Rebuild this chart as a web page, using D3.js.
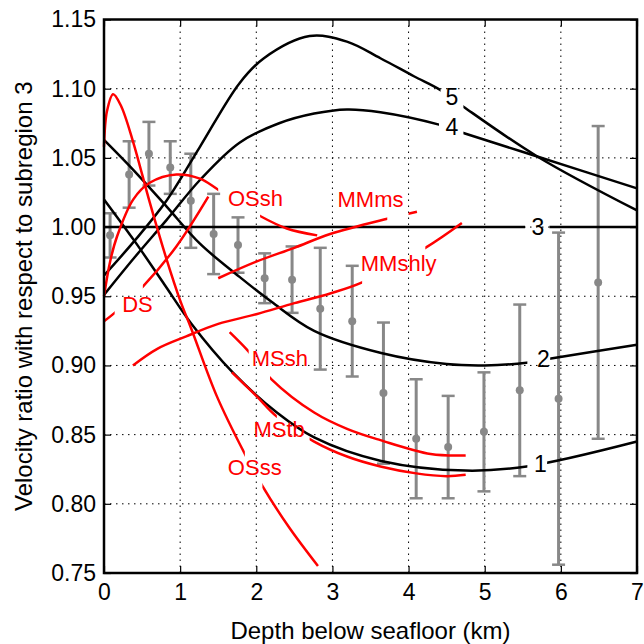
<!DOCTYPE html>
<html>
<head>
<meta charset="utf-8">
<script src="https://cdn.jsdelivr.net/npm/d3@7"></script>
<style>
  body { margin: 0; background: #fff; }
  svg text { font-family: "Liberation Sans", Arial, Helvetica, sans-serif; }
</style>
</head>
<body>
<svg id="chart" width="644" height="644"></svg>
<script>
// axis ticks
const xTicks = [0, 1, 2, 3, 4, 5, 6, 7]
const yTicks = [0.75, 0.80, 0.85, 0.90, 0.95, 1.00, 1.05, 1.10, 1.15]

// observed ratios with error bars
const obsDepth = [0.08, 0.33, 0.59, 0.87, 1.14, 1.44, 1.76, 2.11, 2.47, 2.84, 3.26, 3.67, 4.10, 4.52, 4.99, 5.46, 5.97, 6.49]
const obsRatio = [0.994, 1.038, 1.053, 1.043, 1.019, 0.995, 0.987, 0.963, 0.962, 0.941, 0.932, 0.880, 0.847, 0.841, 0.852, 0.882, 0.876, 0.960]
const obsErr   = [0.016, 0.024, 0.023, 0.019, 0.034, 0.029, 0.020, 0.018, 0.024, 0.044, 0.040, 0.051, 0.043, 0.037, 0.043, 0.062, 0.120, 0.113]

// subregion curves (black)
const sub1 = [[0, 1.020], [0.4, 0.990], [0.8, 0.958], [1.15, 0.930], [1.69, 0.895], [2.27, 0.866], [2.76, 0.848], [3.64, 0.831], [4.75, 0.824], [5.55, 0.827], [7, 0.845]]
const sub2 = [[0, 1.063], [0.39, 1.041], [0.82, 1.015], [1.26, 0.988], [1.78, 0.964], [2.2, 0.946], [2.76, 0.925], [3.64, 0.909], [4.5, 0.901], [5.0, 0.900], [5.55, 0.902], [5.87, 0.905], [7, 0.915]]
const sub3 = [[0, 1.0], [7, 1.0]]
const sub4 = [[0, 0.951], [0.4, 0.978], [0.82, 1.005], [1.26, 1.034], [1.78, 1.061], [2.3, 1.075], [2.76, 1.082], [3.19, 1.085], [3.63, 1.083], [4.4, 1.074], [4.72, 1.068], [5.69, 1.051], [7, 1.028]]
const sub5 = [[0, 0.965], [0.4, 0.990], [0.82, 1.019], [1.26, 1.058], [1.78, 1.104], [2.1, 1.122], [2.7, 1.138], [3.19, 1.134], [3.63, 1.122], [4.07, 1.109], [4.42, 1.099], [4.72, 1.087], [5.69, 1.051], [7, 1.012]]

// lithology curves (red)
const osss   = [[0, 1.058], [0.04, 1.084], [0.12, 1.096], [0.22, 1.088], [0.38, 1.062], [0.6, 1.018], [0.82, 0.977], [1.0, 0.947], [1.15, 0.926], [1.48, 0.878], [1.85, 0.836], [2.08, 0.813], [2.43, 0.783], [2.81, 0.755]]
const ossh   = [[0, 0.950], [0.08, 0.975], [0.17, 0.993], [0.385, 1.020], [0.6, 1.032], [0.95, 1.038], [1.26, 1.035], [1.5, 1.027], [2.05, 1.008], [2.4, 0.999], [2.8, 0.994]]
const ds     = [[0, 0.932], [0.14, 0.938], [0.51, 0.957], [0.95, 0.986], [1.37, 1.022]]
const mmms   = [[1.5, 0.963], [2.0, 0.975], [2.5, 0.985], [2.97, 0.995], [3.72, 1.006], [4.11, 1.011]]
const mmshly = [[0.38, 0.900], [0.7, 0.912], [1.08, 0.921], [1.5, 0.930], [2.0, 0.937], [2.5, 0.945], [2.97, 0.952], [3.39, 0.960], [4.22, 0.985], [4.70, 1.003]]
const mssh   = [[1.65, 0.924], [1.9, 0.910], [2.2, 0.890], [2.76, 0.866], [3.2, 0.854], [3.63, 0.846], [4.29, 0.836], [4.75, 0.835]]
const mstb   = [[1.68, 0.895], [2.0, 0.878], [2.27, 0.863], [2.76, 0.845], [3.2, 0.834], [3.63, 0.827], [4.1, 0.822], [4.5, 0.820], [4.75, 0.821]]

const curves = [
  { pts: sub1, color: '#000', text: '1', at: [5.73, 0.829], gap: [5.56, 5.82] },
  { pts: sub2, color: '#000', text: '2', at: [5.77, 0.905], gap: [5.56, 5.86] },
  { pts: sub3, color: '#000', text: '3', at: [5.70, 1.0], gap: [5.53, 5.85] },
  { pts: sub4, color: '#000', text: '4', at: [4.57, 1.0725], gap: [4.40, 4.72] },
  { pts: sub5, color: '#000', text: '5', at: [4.57, 1.094], gap: [4.42, 4.72] },
  { pts: osss, color: '#f00', text: 'OSss', at: [1.98, 0.826], gap: [1.85, 2.08] },
  { pts: ossh, color: '#f00', text: 'OSsh', at: [1.99, 1.021], gap: [1.5, 2.05] },
  { pts: ds, color: '#f00', text: 'DS', at: [0.44, 0.944], gap: [0.14, 0.51] },
  { pts: mmms, color: '#f00', text: 'MMms', at: [3.50, 1.0196], gap: [3.72, 4.0] },
  { pts: mmshly, color: '#f00', text: 'MMshly', at: [3.87, 0.974], gap: [3.39, 4.22] },
  { pts: mssh, color: '#f00', text: 'MSsh', at: [2.31, 0.905], gap: [1.9, 2.18] },
  { pts: mstb, color: '#f00', text: 'MStb', at: [2.30, 0.854], gap: [2.27, 2.7] }
]

const margin = { top: 19.5, left: 104, right: 7, bottom: 71 }
const width = 644, height = 644
const x = d3.scaleLinear().domain([0, 7]).range([margin.left, width - margin.right])
const y = d3.scaleLinear().domain([0.75, 1.15]).range([height - margin.bottom, margin.top])

const svg = d3.select('#chart')

// 网格线
const grid = svg.append('g').attr('stroke', '#000').attr('stroke-width', 1).attr('stroke-dasharray', '1.5,4.5')
grid.selectAll('.gx').data(xTicks.slice(1, -1)).enter().append('line')
  .attr('x1', d => x(d)).attr('x2', d => x(d))
  .attr('y1', y(1.15)).attr('y2', y(0.75))
grid.selectAll('.gy').data(yTicks.slice(1, -1)).enter().append('line')
  .attr('y1', d => y(d)).attr('y2', d => y(d))
  .attr('x1', x(0)).attr('x2', x(7))

// 误差棒
const bars = svg.append('g').attr('stroke', '#888').attr('fill', '#888').attr('stroke-width', 3)
const obs = obsDepth.map((d, i) => ({ d, r: obsRatio[i], e: obsErr[i] }))
bars.selectAll('.bar').data(obs).enter().append('line')
  .attr('x1', o => x(o.d)).attr('x2', o => x(o.d))
  .attr('y1', o => y(o.r + o.e)).attr('y2', o => y(o.r - o.e))
bars.selectAll('.capTop').data(obs).enter().append('line')
  .attr('x1', o => x(o.d) - 6.5).attr('x2', o => x(o.d) + 6.5)
  .attr('y1', o => y(o.r + o.e)).attr('y2', o => y(o.r + o.e))
  .attr('stroke-width', 2.5)
bars.selectAll('.capBot').data(obs).enter().append('line')
  .attr('x1', o => x(o.d) - 6.5).attr('x2', o => x(o.d) + 6.5)
  .attr('y1', o => y(o.r - o.e)).attr('y2', o => y(o.r - o.e))
  .attr('stroke-width', 2.5)
bars.selectAll('circle').data(obs).enter().append('circle')
  .attr('cx', o => x(o.d)).attr('cy', o => y(o.r)).attr('r', 4).attr('stroke', 'none')

// 曲线, 标签处断开
const line = d3.line().x(p => x(p[0])).y(p => y(p[1])).curve(d3.curveCatmullRom.alpha(0.5))
const defs = svg.append('defs')
curves.forEach((c, i) => {
  const clip = defs.append('clipPath').attr('id', `gap${i}`)
  clip.append('rect').attr('x', 0).attr('y', 0).attr('width', x(c.gap[0])).attr('height', height)
  clip.append('rect').attr('x', x(c.gap[1])).attr('y', 0).attr('width', width - x(c.gap[1])).attr('height', height)
  svg.append('path')
    .attr('d', line(c.pts))
    .attr('fill', 'none')
    .attr('stroke', c.color)
    .attr('stroke-width', 2.5)
    .attr('clip-path', `url(#gap${i})`)
  svg.append('text')
    .attr('x', x(c.at[0])).attr('y', y(c.at[1]))
    .attr('text-anchor', 'middle')
    .attr('dominant-baseline', 'central')
    .attr('font-size', c.color === '#000' ? '23px' : '22px')
    .attr('fill', c.color)
    .text(c.text)
})

// 坐标轴
svg.append('g').attr('transform', `translate(0,${y(0.75)})`)
  .call(d3.axisBottom(x).tickValues(xTicks).tickSize(-7).tickPadding(11).tickFormat(d3.format('d')))
svg.append('g').attr('transform', `translate(${x(0)},0)`)
  .call(d3.axisLeft(y).tickValues(yTicks).tickSize(-7).tickPadding(8).tickFormat(d3.format('.2f')))
svg.append('g').attr('transform', `translate(0,${y(1.15)})`)
  .call(d3.axisTop(x).tickValues(xTicks).tickSize(-7).tickFormat(''))
svg.append('g').attr('transform', `translate(${x(7)},0)`)
  .call(d3.axisRight(y).tickValues(yTicks).tickSize(-7).tickFormat(''))
svg.selectAll('.domain').remove()
svg.selectAll('.tick line').attr('stroke', '#000').attr('stroke-width', 1.2)
svg.selectAll('.tick text').attr('font-size', '23px').attr('fill', '#000')
  .style('font-family', '"Liberation Sans", Arial, sans-serif')

svg.append('rect')
  .attr('x', x(0)).attr('y', y(1.15))
  .attr('width', x(7) - x(0)).attr('height', y(0.75) - y(1.15))
  .attr('fill', 'none').attr('stroke', '#000').attr('stroke-width', 2.5)

svg.append('text')
  .attr('x', (x(0) + x(7)) / 2).attr('y', 639)
  .attr('text-anchor', 'middle').attr('font-size', '24px')
  .text('Depth below seafloor (km)')
svg.append('text')
  .attr('transform', `translate(32,${(y(0.75) + y(1.15)) / 2}) rotate(-90)`)
  .attr('text-anchor', 'middle').attr('font-size', '24px')
  .text('Velocity ratio with respect to subregion 3')
</script>
</body>
</html>
